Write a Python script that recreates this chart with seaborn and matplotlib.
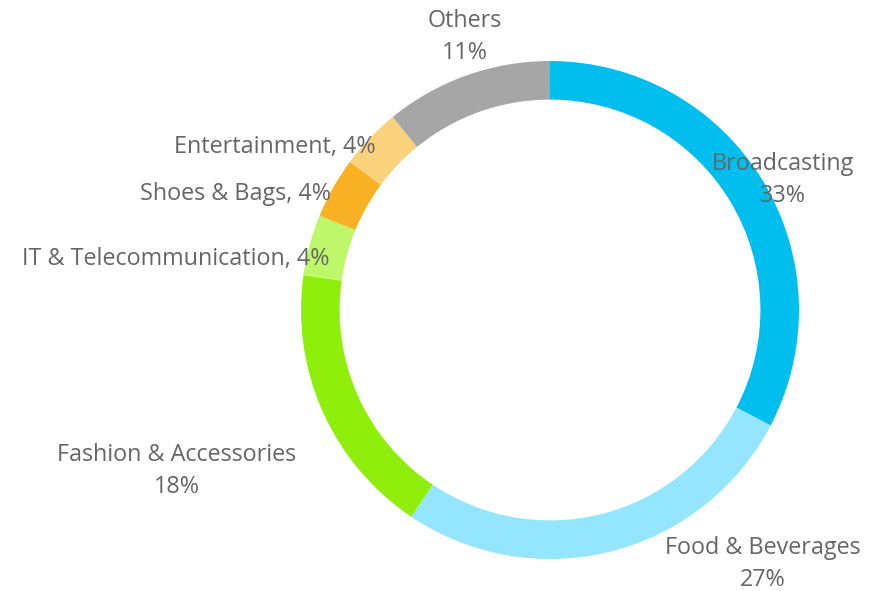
import matplotlib
matplotlib.use("Agg")
import matplotlib.pyplot as plt
import seaborn as sns

categories = ["Broadcasting", "Food & Beverages", "Fashion & Accessories",
              "IT & Telecommunication", "Shoes & Bags", "Entertainment", "Others"]
shares = [33, 27, 18, 4, 4, 4, 11]
colors = ["#00BFEF", "#93E6FE", "#8FEF0A", "#BEF86A", "#F9B224", "#FBD27C", "#A6A6A6"]
inline = [False, False, False, True, True, True, False]

sns.set_theme(style="white")
plt.rcParams['font.family'] = ['Open Sans', 'DejaVu Sans']

W, H = 884, 591
fig = plt.figure(figsize=(W / 100, H / 100), dpi=100)
ax = fig.add_axes([0, 0, 1, 1])

cx, cy, R = 550, 310, 249  # pixel center / radius
wedges, _ = ax.pie(shares, colors=colors, startangle=90, counterclock=False,
                   radius=1.0, wedgeprops=dict(width=0.155, edgecolor="none"))
ax.set_xlim(-cx / R, (W - cx) / R)
ax.set_ylim(-(H - cy) / R, cy / R)
ax.set_aspect("auto")
ax.axis("off")

def px(x, y):
    return (x - cx) / R, (cy - y) / R

# label anchor positions (pixel) and alignment
label_pos = [(783, 180, "center"), (763, 564, "center"), (177, 471, "center"),
             (330, 259, "right"), (331, 194, "right"), (376, 147, "right"),
             (465, 37, "center")]
tc = "#666666"
for name, val, il, (lx, ly, ha) in zip(categories, shares, inline, label_pos):
    x, y = px(lx, ly)
    if il:
        txt = f"{name}, {val}%"
    else:
        txt = f"{name}\n{val}%"
    ax.text(x, y, txt, ha=ha, va="center", fontsize=16.8, color=tc,
            linespacing=1.42, multialignment="center")

fig.savefig("out.png", dpi=100, facecolor="white")
